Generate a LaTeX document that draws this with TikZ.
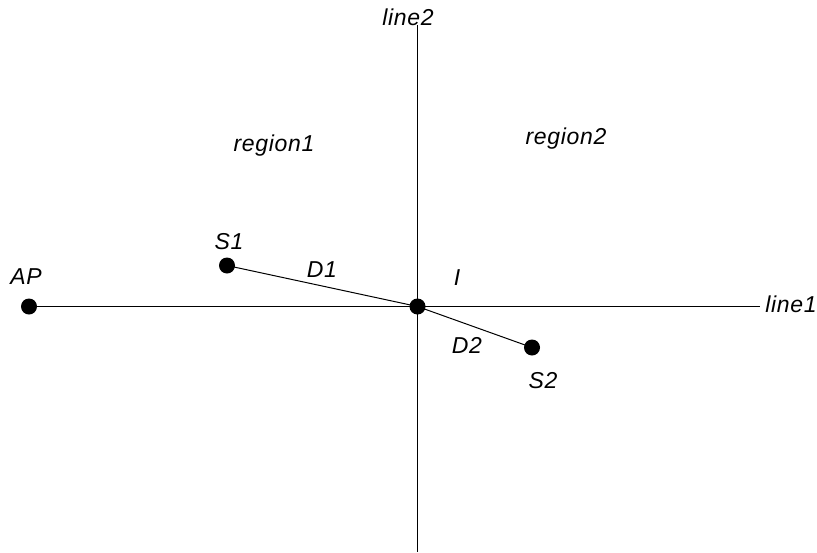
\documentclass[tikz,border=0pt]{standalone}
\usepackage{fontspec}
\setmainfont{Liberation Sans}
\usetikzlibrary{positioning}

\begin{document}
\begin{tikzpicture}[x=1pt,y=-1pt,
  dot/.style={circle,fill=black,inner sep=0pt,minimum size=16pt},
  lbl/.style={font=\fontsize{23}{27}\selectfont\itshape\addfontfeature{LetterSpace=3},inner sep=0pt,anchor=base},
  wire/.style={line width=1pt}]
\useasboundingbox (0,0) rectangle (817,552);
% points
\node[dot] (ap) at (29,306.5) {};
\node[dot] (s1) at (227,265.5) {};
\node[dot] (i) at (417.5,306.5) {};
\node[dot] (s2) at (532,347.5) {};
% line ends
\coordinate (l1end) at (760,306.5);
\coordinate (l2top) at (417.5,25);
\coordinate (l2bot) at (417.5,552);
% lines
\draw[wire] (ap.center) -- (l1end);
\draw[wire] (l2top) -- (l2bot);
\draw[wire] (s1.center) -- (i.center) -- (s2.center);
% labels
\node[lbl] (line2) at (408,25) {line2};
\node[lbl] (line1) at (791,312) {line1};
\node[lbl] (region1) at (274,151.5) {region1};
\node[lbl] (region2) at (566,144) {region2};
\node[lbl] (aplbl) at (26,284) {AP};
\node[lbl] (s1lbl) at (229,249) {S1};
\node[lbl] (d1lbl) at (322,277) {D1};
\node[lbl] (ilbl) at (457,285) {I};
\node[lbl] (d2lbl) at (467,353) {D2};
\node[lbl] (s2lbl) at (543,388) {S2};
\end{tikzpicture}
\end{document}
